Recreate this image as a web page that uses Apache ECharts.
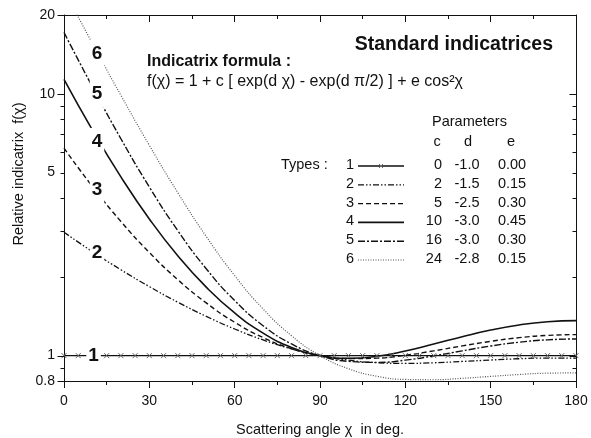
<!DOCTYPE html>
<html>
<head>
<meta charset="utf-8">
<title>Standard indicatrices</title>
<script src="https://cdn.jsdelivr.net/npm/echarts@6/dist/echarts.min.js"></script>
<style>
    html,body{margin:0;padding:0;background:#fff;}
    #chart{width:591px;height:438px;}
</style>
</head>
<body>
<div id="chart"></div>
<script>
// scattering angle (deg) and indicatrix values
let chiDeg = [0,10,20,30,40,50,60,70,80,90,100,110,120,130,140,150,160,170,180];
let chiDeg5 = [0,5,10,15,20,25,30,35,40,45,50,55,60,65,70,75,80,85,90,95,100,105,110,115,120,125,130,135,140,145,150,155,160,165,170,175,180];
let type1 = [1,1,1,1,1,1,1,1,1,1,1,1,1,1,1,1,1,1,1,1,1,1,1,1,1,1,1,1,1,1,1,1,1,1,1,1,1];
let type2 = [2.960,2.495,2.128,1.835,1.600,1.413,1.264,1.148,1.061,1.000,0.961,0.940,0.934,0.939,0.950,0.962,0.973,0.979,0.978];
let type3 = [6.20,4.424,3.255,2.477,1.951,1.590,1.341,1.172,1.063,1.000,0.974,0.978,1.003,1.043,1.089,1.134,1.171,1.195,1.203];
let type4 = [11.36,7.271,4.817,3.327,2.405,1.826,1.455,1.219,1.075,1.000,0.977,0.994,1.041,1.107,1.181,1.252,1.310,1.348,1.361];
let type5 = [17.16,10.63,6.736,4.408,3.002,2.147,1.623,1.301,1.108,1.000,0.951,0.942,0.961,0.998,1.043,1.088,1.125,1.149,1.158];
let type6 = [24.86,15.57,9.869,6.356,4.192,2.852,2.021,1.507,1.191,1.000,0.891,0.834,0.811,0.809,0.819,0.833,0.847,0.857,0.859];

// parameter table
let typeIds = ['1','2','3','4','5','6'];
let paramC = ['0','2','5','10','16','24'];
let paramD = ['-1.0','-1.5','-2.5','-3.0','-3.0','-2.8'];
let paramE = ['0.00','0.15','0.30','0.45','0.30','0.15'];

// curve number labels (data coords)
let labelChi = [10.4,11.6,11.6,11.6,11.6,11.6];
let labelF = [1.0,2.47,4.29,6.55,10.0,14.2];

// axis ticks
let yLabels = [0.8,1,5,10,20];
let yMajor = [0.8,1,10,20];
let yMinor = [0.9,2,3,4,5,6,7,8,9];

const FONT = '"Liberation Sans", Arial, sans-serif';
const INK = '#111';
let dashes = [null,[6,2,1.5,2,1.5,2],[5,3],null,[7,2,2,2],[1,1.5]];
let widths = [1.3,1.3,1.4,1.6,1.4,1.2];
let colors = [INK,INK,INK,INK,INK,'#555'];

function pairs(xs,ys){ return xs.map((x,i)=>[x,ys[i]]); }

let chart = echarts.init(document.getElementById('chart'));

let xBase = {
    type:'value', min:0, max:180, interval:30, gridIndex:0,
    axisLine:{lineStyle:{color:INK,width:1}},
    splitLine:{show:false},
    minorTick:{show:true,splitNumber:2,length:4,lineStyle:{color:INK}},
    axisTick:{length:7,lineStyle:{color:INK}}
};
let yBase = {
    type:'log', logBase:10, min:0.8, max:20, gridIndex:0,
    splitLine:{show:false}, axisTick:{show:false},
    axisLine:{show:true,onZero:false,lineStyle:{color:INK,width:1}}
};

let curves = [type2,type3,type4,type5,type6];
let series = [{
    name:'1', type:'line', data:pairs(chiDeg5,type1),
    symbol:'path://M0,0L10,10M10,0L0,10', symbolSize:5, showAllSymbol:true,
    itemStyle:{color:'rgba(0,0,0,0)',borderColor:'#666',borderWidth:1},
    lineStyle:{color:INK,width:widths[0]}, z:2
}];
curves.forEach((c,i)=>{
    series.push({
        name:typeIds[i+1], type:'line', data:pairs(chiDeg,c), smooth:true,
        symbol:'none', clip:true,
        lineStyle:{color:colors[i+1],width:widths[i+1],type:dashes[i+1]||'solid'}, z:2
    });
});

let option = {
    animation:false,
    backgroundColor:'#fff',
    textStyle:{fontFamily:FONT},
    grid:[{left:64,right:15,top:15,bottom:57,outerBoundsMode:'none'}],
    xAxis:[
        Object.assign({},xBase,{position:'bottom',
            name:'Scattering angle \u03c7  in deg.',nameLocation:'middle',nameGap:41,
            nameTextStyle:{fontSize:14.5,color:INK,fontFamily:FONT},
            axisLabel:{fontSize:14,color:INK,margin:13,fontFamily:FONT}}),
        Object.assign({},xBase,{position:'top',axisLabel:{show:false},
            axisTick:{inside:true,length:7,lineStyle:{color:INK}}})
    ],
    yAxis:[
        Object.assign({},yBase,{position:'left',
            axisLabel:{fontSize:14,color:INK,margin:9,fontFamily:FONT,customValues:yLabels,
                formatter:v=>String(v)}}),
        Object.assign({},yBase,{position:'right',axisLabel:{show:false}})
    ],
    series:series
};
chart.setOption(option);

// legend table, texts, curve numbers and log-axis ticks as graphics
let graphics = [];
let rowY = typeIds.map((t,i)=>165+18.8*i);
let txt = (x,y,s,align)=>({type:'text',x:x,y:y,z:10,
    style:{text:s,fill:INK,font:'14.5px '+FONT,textAlign:align||'left',textVerticalAlign:'middle'}});
let seg = (x1,y1,x2,y2,st)=>({type:'line',z:10,shape:{x1:x1,y1:y1,x2:x2,y2:y2},
    style:Object.assign({stroke:INK,lineWidth:1},st||{})});
graphics.push(txt(432,122,'Parameters'));
graphics.push(txt(437,142,'c','center'));
graphics.push(txt(468,142,'d','center'));
graphics.push(txt(511,142,'e','center'));
graphics.push(txt(281,165,'Types :'));
rowY.forEach((y,i)=>{
    graphics.push(txt(350,y,typeIds[i],'center'));
    graphics.push(txt(442,y,paramC[i],'right'));
    graphics.push(txt(467,y,paramD[i],'center'));
    graphics.push(txt(512,y,paramE[i],'center'));
    graphics.push(seg(358,y+1,404,y+1,{stroke:colors[i],lineWidth:widths[i],lineDash:dashes[i]||null}));
});
// cross marker on the type 1 sample
graphics.push(seg(379,164,383,168,{stroke:'#666'}));
graphics.push(seg(383,164,379,168,{stroke:'#666'}));
graphics.push({type:'text',x:553,y:45,z:10,style:{text:'Standard indicatrices',fill:INK,
    font:'bold 19.5px '+FONT,textAlign:'right',textVerticalAlign:'middle'}});
graphics.push({type:'text',x:147,y:62,z:10,style:{text:'Indicatrix formula :',fill:INK,
    font:'bold 16px '+FONT,textVerticalAlign:'middle'}});
graphics.push({type:'text',x:147,y:82,z:10,style:{text:'f(\u03c7) = 1 + c [ exp(d \u03c7) - exp(d \u03c0/2) ] + e cos\u00b2\u03c7',
    fill:INK,font:'16px '+FONT,textVerticalAlign:'middle'}});
graphics.push({type:'text',x:19,y:174,z:10,rotation:Math.PI/2,style:{text:'Relative indicatrix  f(\u03c7)',
    fill:INK,font:'14.5px '+FONT,textAlign:'center',textVerticalAlign:'middle'}});

// curve numbers, placed through the chart's scales, masking the curves
labelChi.forEach((x,i)=>{
    let p = chart.convertToPixel({xAxisIndex:0,yAxisIndex:0},[x,labelF[i]]);
    graphics.push({type:'text',x:p[0],y:p[1],z:20,style:{text:typeIds[i],fill:INK,
        font:'bold 19px '+FONT,textAlign:'center',textVerticalAlign:'middle',
        backgroundColor:'#fff',padding:[5,2,4,2]}});
});

let xl = Math.round(chart.convertToPixel({xAxisIndex:0},0))+0.5;
let xr = Math.round(chart.convertToPixel({xAxisIndex:0},180))+0.5;
yMajor.concat(yMinor).forEach(v=>{
    let len = yMajor.indexOf(v)>=0 ? 7 : 4;
    let y = Math.round(chart.convertToPixel({yAxisIndex:0},v))+0.5;
    graphics.push(seg(xl-len,y,xl,y));
    graphics.push(seg(xr-len,y,xr,y));
});
chart.setOption({graphic:graphics});
</script>
</body>
</html>
